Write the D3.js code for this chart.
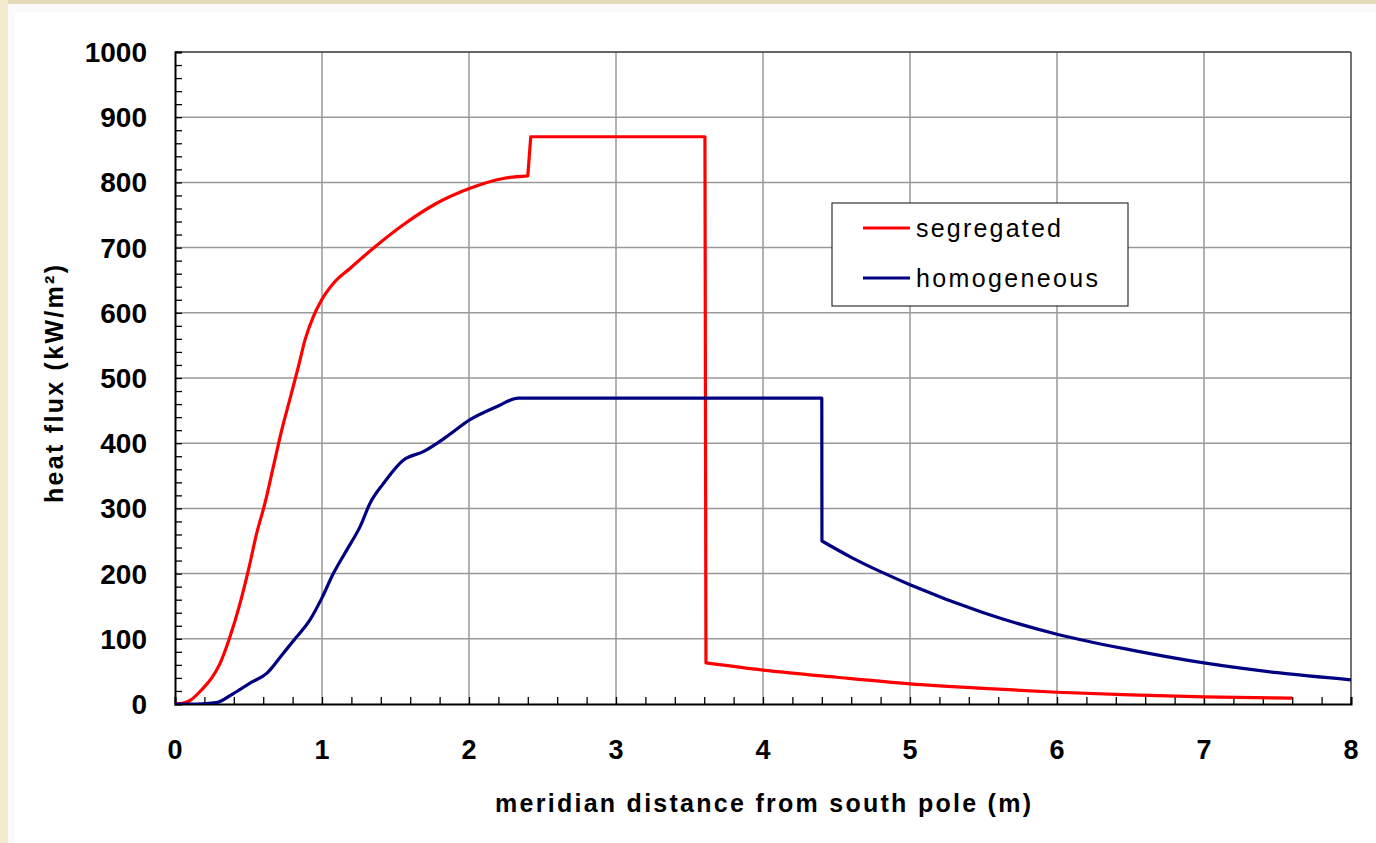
<!DOCTYPE html>
<html>
<head>
<meta charset="utf-8">
<script src="https://cdn.jsdelivr.net/npm/d3@7"></script>
<style>
  html, body { margin: 0; padding: 0; background: #ffffff; }
  svg { display: block; }
</style>
</head>
<body>
<svg id="chart" width="1376" height="843"></svg>
<script>
// Heat flux along the meridian, two mixing assumptions
const segregatedX = [0, 0.05, 0.10, 0.19, 0.25, 0.306, 0.374, 0.442, 0.499, 0.556, 0.612, 0.669, 0.726, 0.782,
  0.839, 0.884, 0.941, 0.998, 1.077, 1.19, 1.349, 1.553, 1.78, 2.007, 2.233, 2.40, 2.42, 3.605, 3.612,
  4.0, 4.5, 5.0, 5.5, 6.0, 6.5, 7.0, 7.6];
const segregatedY = [0, 1, 5, 24, 40, 62, 103, 154, 205, 262, 308, 364, 420, 468,
  517, 558, 594, 620, 645, 668, 699, 735, 768, 791, 806, 810, 870, 870, 63,
  52, 41, 31, 24, 18, 14, 11, 9];

const homogeneousX = [0, 0.15, 0.28, 0.397, 0.51, 0.624, 0.737, 0.828, 0.918, 0.998, 1.077, 1.168, 1.259,
  1.327, 1.417, 1.553, 1.689, 1.848, 2.007, 2.188, 2.336, 4.40, 4.401, 4.6, 4.8, 5.0, 5.5, 6.0, 6.5, 7.0, 7.5, 8.0];
const homogeneousY = [0, 0, 2, 16, 32, 47, 78, 103, 129, 162, 200, 236, 272,
  308, 338, 374, 387, 410, 436, 456, 469, 469, 250, 225, 203, 183, 140, 107, 83, 63, 48, 37];

const xTicks = [0, 1, 2, 3, 4, 5, 6, 7, 8];
const yTicks = [0, 100, 200, 300, 400, 500, 600, 700, 800, 900, 1000];
const seriesNames = ["segregated", "homogeneous"];
const seriesColors = ["#ff0000", "#000080"];

const svg = d3.select("#chart");

// page frame strips
svg.append("rect").attr("x", 0).attr("y", 0).attr("width", 1376).attr("height", 843).attr("fill", "#ffffff");
svg.append("rect").attr("x", 8).attr("y", 4).attr("width", 1368).attr("height", 8).attr("fill", "#fafafa");
svg.append("rect").attr("x", 8).attr("y", 4).attr("width", 7).attr("height", 839).attr("fill", "#fafafa");
svg.append("rect").attr("x", 0).attr("y", 0).attr("width", 1376).attr("height", 4).attr("fill", "#e4dab8");
svg.append("rect").attr("x", 0).attr("y", 0).attr("width", 8).attr("height", 843).attr("fill", "#f4ead0");

const plotLeft = 175, plotRight = 1351, plotTop = 52, plotBottom = 704;
const x = d3.scaleLinear().domain([0, 8]).range([plotLeft, plotRight]);
const y = d3.scaleLinear().domain([0, 1000]).range([plotBottom, plotTop]);

const font = "'Liberation Sans', Arial, sans-serif";

// grid
const grid = svg.append("g");
grid.selectAll("line.v").data(xTicks.slice(1, -1)).join("line").attr("class", "v")
  .attr("x1", d => x(d)).attr("x2", d => x(d)).attr("y1", plotTop).attr("y2", plotBottom)
  .attr("stroke", "#999").attr("stroke-width", 1.5);
grid.selectAll("line.h").data(yTicks.slice(1, -1)).join("line").attr("class", "h")
  .attr("y1", d => y(d)).attr("y2", d => y(d)).attr("x1", plotLeft).attr("x2", plotRight)
  .attr("stroke", "#999").attr("stroke-width", 1.5);

// frame top / right
svg.append("line").attr("x1", plotLeft).attr("x2", plotRight).attr("y1", plotTop).attr("y2", plotTop)
  .attr("stroke", "#333").attr("stroke-width", 1.5);
svg.append("line").attr("x1", plotRight).attr("x2", plotRight).attr("y1", plotTop).attr("y2", plotBottom)
  .attr("stroke", "#444").attr("stroke-width", 1.5);

// axes with inward minor ticks
const xAxis = d3.axisBottom(x).tickValues(d3.range(0, 8.0001, 0.2)).tickSize(-7).tickFormat("");
const yAxis = d3.axisLeft(y).tickValues(d3.range(0, 1000.001, 20)).tickSize(-7).tickFormat("");
const gx = svg.append("g").attr("transform", `translate(0,${plotBottom})`).call(xAxis);
const gy = svg.append("g").attr("transform", `translate(${plotLeft},0)`).call(yAxis);
[gx, gy].forEach(g => {
  g.select(".domain").attr("stroke", "#000").attr("stroke-width", 2);
  g.selectAll(".tick line").attr("stroke", "#000").attr("stroke-width", 1.3);
});

// tick labels
svg.append("g").selectAll("text").data(xTicks).join("text")
  .attr("x", d => x(d)).attr("y", 759)
  .attr("text-anchor", "middle")
  .attr("font-family", font).attr("font-weight", "bold").attr("font-size", 27)
  .text(d => d);
svg.append("g").selectAll("text").data(yTicks).join("text")
  .attr("x", 147).attr("y", d => y(d) + 10)
  .attr("text-anchor", "end")
  .attr("font-family", font).attr("font-weight", "bold").attr("font-size", 28)
  .text(d => d);

// axis titles
svg.append("text")
  .attr("x", (plotLeft + plotRight) / 2).attr("y", 812)
  .attr("text-anchor", "middle")
  .attr("font-family", font).attr("font-weight", "bold").attr("font-size", 25)
  .attr("textLength", 536).attr("lengthAdjust", "spacing")
  .text("meridian distance from south pole (m)");
svg.append("text")
  .attr("transform", "translate(63,384) rotate(-90)")
  .attr("text-anchor", "middle")
  .attr("font-family", font).attr("font-weight", "bold").attr("font-size", 25)
  .attr("textLength", 238).attr("lengthAdjust", "spacing")
  .text("heat flux (kW/m²)");

// curves: smooth within each run, straight across the steps
const smooth = d3.line().x(d => x(d[0])).y(d => y(d[1])).curve(d3.curveMonotoneX);
function steppedPath(pts) {
  const runs = [[pts[0]]];
  for (let k = 1; k < pts.length; k++) {
    if (pts[k][0] - pts[k - 1][0] < 0.03) runs.push([pts[k]]);
    else runs[runs.length - 1].push(pts[k]);
  }
  return runs.map((r, k) => {
    const d = r.length > 1 ? smooth(r) : `M${x(r[0][0])},${y(r[0][1])}`;
    return k === 0 ? d : "L" + d.slice(1);
  }).join("");
}
const seriesData = [
  d3.zip(segregatedX, segregatedY),
  d3.zip(homogeneousX, homogeneousY)
];
svg.append("defs").append("clipPath").attr("id", "plotclip")
  .append("rect").attr("x", plotLeft).attr("y", plotTop - 2)
  .attr("width", plotRight - plotLeft).attr("height", plotBottom - plotTop + 2);
const curves = svg.append("g").attr("clip-path", "url(#plotclip)");
seriesData.forEach((pts, i) => {
  curves.append("path")
    .attr("d", steppedPath(pts))
    .attr("fill", "none")
    .attr("stroke", seriesColors[i])
    .attr("stroke-width", 3.2)
    .attr("stroke-linejoin", "round");
});

// legend
const lg = svg.append("g");
lg.append("rect").attr("x", 832).attr("y", 203).attr("width", 296).attr("height", 103)
  .attr("fill", "#fff").attr("stroke", "#333").attr("stroke-width", 1.2);
const legendLen = [145, 182];
seriesNames.forEach((name, i) => {
  const ly = 228 + i * 50;
  lg.append("line").attr("x1", 863).attr("x2", 910).attr("y1", ly).attr("y2", ly)
    .attr("stroke", seriesColors[i]).attr("stroke-width", 3.2);
  lg.append("text").attr("x", 916).attr("y", ly + 9)
    .attr("font-family", font).attr("font-size", 25)
    .attr("textLength", legendLen[i]).attr("lengthAdjust", "spacing")
    .text(name);
});
</script>
</body>
</html>
